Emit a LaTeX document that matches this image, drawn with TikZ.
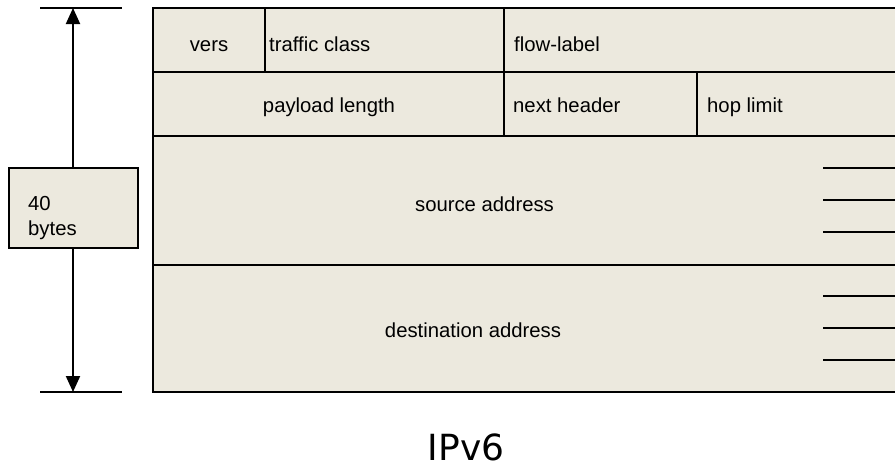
\documentclass[tikz,border=0pt]{standalone}
\usepackage{fontspec}
\setmainfont{Liberation Sans}
\newfontfamily\titlefont{DejaVu Sans}
\usetikzlibrary{arrows.meta}
\definecolor{fieldfill}{HTML}{ECE9DE}
\begin{document}
\begin{tikzpicture}[x=1pt,y=-1pt,
  field/.style={draw=black, line width=2pt, fill=fieldfill, inner sep=0pt},
  lbl/.style={font=\fontsize{20.3}{24}\selectfont, inner sep=0pt, text=black},
  tick/.style={line width=2pt},
  dim/.style={line width=2pt, -{Triangle[length=16pt,width=14pt]}}]
\useasboundingbox (0,0) rectangle (895,467);
% field boxes (right edge runs off the page)
\node[field, minimum width=112pt, minimum height=64pt] (vers) at (209,40) {};
\node[field, minimum width=239pt, minimum height=64pt] (traffic) at (384.5,40) {};
\node[field, minimum width=396pt, minimum height=64pt] (flow) at (702,40) {};
\node[field, minimum width=351pt, minimum height=64pt] (payload) at (328.5,104) {};
\node[field, minimum width=193pt, minimum height=64pt] (next) at (600.5,104) {};
\node[field, minimum width=203pt, minimum height=64pt] (hop) at (798.5,104) {};
\node[field, minimum width=747pt, minimum height=129pt] (source) at (526.5,200.5) {};
\node[field, minimum width=747pt, minimum height=127pt] (dest) at (526.5,328.5) {};
% labels
\node[lbl, anchor=base] (tvers) at (209,51) {vers};
\node[lbl, anchor=base west] (ttraffic) at (269,51) {traffic class};
\node[lbl, anchor=base west] (tflow) at (514,51) {flow-label};
\node[lbl, anchor=base] (tpayload) at (329,112) {payload length};
\node[lbl, anchor=base west] (tnext) at (513,112) {next header};
\node[lbl, anchor=base west] (thop) at (707,112) {hop limit};
\node[lbl, anchor=base] (tsource) at (484.5,211) {source address};
\node[lbl, anchor=base] (tdest) at (473,337) {destination address};
% ticks on the address fields
\foreach \yy in {168,200,232,296,328,360}
  \draw[tick] (823,\yy) -- (897,\yy);
% size indicator
\coordinate (topL) at (40,8);
\coordinate (topR) at (122,8);
\coordinate (botL) at (40,392);
\coordinate (botR) at (122,392);
\coordinate (topM) at (73,8);
\coordinate (botM) at (73,392);
\draw[line width=2pt] (topL) -- (topR);
\draw[line width=2pt] (botL) -- (botR);
\node[field, minimum width=129pt, minimum height=80pt] (bytes) at (73,208) {};
\node[lbl, anchor=base west] (t40) at (28,210) {40};
\node[lbl, anchor=base west] (tbytes) at (28,235) {bytes};
\draw[dim] (bytes.north) -- (topM);
\draw[dim] (bytes.south) -- (botM);
% title
\node[font=\titlefont\fontsize{36}{40}\selectfont, anchor=base, inner sep=0pt] (title) at (466,460) {IPv6};
\end{tikzpicture}
\end{document}
